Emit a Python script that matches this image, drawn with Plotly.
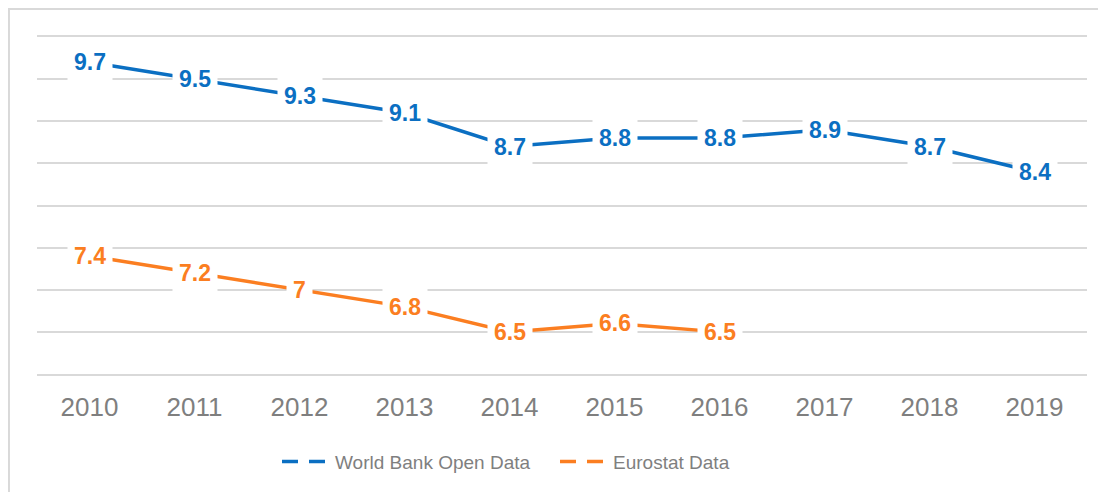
import plotly.graph_objects as go

years = ["2010", "2011", "2012", "2013", "2014", "2015", "2016", "2017", "2018", "2019"]
world_bank = [9.7, 9.5, 9.3, 9.1, 8.7, 8.8, 8.8, 8.9, 8.7, 8.4]
eurostat = [7.4, 7.2, 7.0, 6.8, 6.5, 6.6, 6.5]
series_names = ["World Bank Open Data", "Eurostat Data"]

BLUE = "#0B6FC2"
ORANGE = "#FB7E21"
GRID = "#D9D9D9"
TEXT = "#7F7F7F"
FONT = "Liberation Sans, Arial, sans-serif"

fig = go.Figure()
series = [(series_names[0], world_bank, BLUE), (series_names[1], eurostat, ORANGE)]

for name, vals, col in series:
    xs = years[:len(vals)]
    fig.add_trace(go.Scatter(x=xs, y=vals, mode="lines", name=name,
                             line=dict(color=col, width=3.5), showlegend=False,
                             hoverinfo="skip"))
    for i, v in enumerate(vals):
        fig.add_annotation(x=i, y=v, xref="x", yref="y", text=f"<b>{v:g}</b>",
                           showarrow=False, bgcolor="white", borderpad=6,
                           font=dict(family=FONT, size=23, color=col),
                           xanchor="center", yanchor="middle")

# legend entries
for name, vals, col in series:
    fig.add_trace(go.Scatter(x=[None], y=[None], mode="lines", name=name,
                             line=dict(color=col, width=3.5, dash="16px,11px")))

# outer frame (page body has an 8px margin)
fig.add_shape(type="rect", xref="paper", yref="paper",
              x0=-0.0267, x1=1.05, y0=-0.6, y1=1.0828,
              line=dict(color=GRID, width=2), fillcolor="rgba(0,0,0,0)", layer="below")

fig.update_layout(
    width=1098, height=484,
    margin=dict(l=29, r=19, t=29, b=117),
    paper_bgcolor="white", plot_bgcolor="white",
    font=dict(family=FONT, color=TEXT),
    legend=dict(orientation="h", x=0.2286, xanchor="left", y=-0.2, yanchor="top",
                font=dict(family=FONT, size=19, color=TEXT), itemwidth=48,
                entrywidth=215, bgcolor="rgba(0,0,0,0)"),
    xaxis=dict(type="category", categoryorder="array", categoryarray=years,
               range=[-0.5, 9.5], automargin=False,
               showgrid=False, showline=True, mirror=True, linecolor=GRID, linewidth=2,
               ticks="", ticklabelstandoff=9,
               tickfont=dict(family=FONT, size=26, color=TEXT),
               fixedrange=True),
    yaxis=dict(range=[6, 10], dtick=0.5, tick0=6, showgrid=True, gridcolor=GRID,
               gridwidth=1.8, showticklabels=False, zeroline=False, ticks="",
               automargin=False, fixedrange=True),
)

fig.write_html("out.html")
